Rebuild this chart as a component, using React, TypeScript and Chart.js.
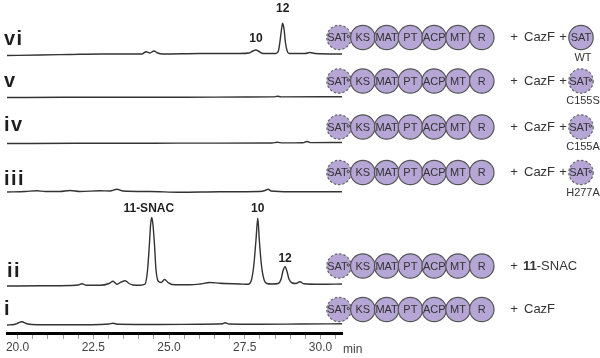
import React, { useEffect, useRef } from "react";
import { Chart, registerables } from "chart.js";

Chart.register(...registerables);

const FONT = '"Liberation Sans", Arial, Helvetica, sans-serif';

// ---------- data ----------
const X_MIN = 19.65;
const X_MAX = 30.71;
const TICK_VALUES = [20, 20.5, 21, 21.5, 22, 22.5, 23, 23.5, 24, 24.5, 25, 25.5, 26, 26.5, 27, 27.5, 28, 28.5, 29, 29.5, 30, 30.5];
const MAJOR_TICKS = [20, 22.5, 25, 27.5, 30];
const AXIS_UNIT = "min";

const TRACE_LABELS = ["vi", "v", "iv", "iii", "ii", "i"];
// baseline offsets of the stacked traces (signal units)
const TRACE_OFFSETS = [277.5, 235.5, 189.5, 141, 47, 8.5];

const traceVI: [number, number][] = [
  [19.65, 0], [20.74, 0.5], [21.73, 1], [22.72, 1.5], [23.71, 1.5], [24.1, 1.5], [24.24, 3.8],
  [24.37, 2.5], [24.5, 4.5], [24.62, 2.5], [24.8, 1.5], [26.02, 2], [27.34, 2], [27.64, 2.5],
  [27.77, 4.5], [27.87, 5.5], [27.97, 4], [28.1, 2], [28.53, 2], [28.61, 4.5], [28.66, 13.5],
  [28.71, 25.5], [28.75, 32.2], [28.8, 25.5], [28.84, 13.5], [28.9, 4.5], [28.96, 2], [29.49, 2],
  [29.65, 3], [29.82, 2], [30.71, 1.5],
];
const traceV: [number, number][] = [
  [19.65, 0], [21.5, 0.2], [23.5, 0.3], [25.5, 0.3], [27.5, 0.5], [28.45, 0.6], [28.57, 1.3],
  [28.7, 0.6], [30.71, 0.8],
];
const traceIV: [number, number][] = [
  [19.65, 0], [22, 0.2], [24.5, 0.3], [26.5, 0.4], [28.4, 0.5], [28.57, 1.2], [28.75, 0.6],
  [29.42, 0.8], [29.55, 2.0], [29.7, 0.9], [30.71, 1],
];
const traceIII: [number, number][] = [
  [19.65, 0], [20.25, 0.5], [20.64, 1.3], [20.91, 0.5], [21.4, 0.5], [21.73, 1.5], [22.06, 0.5],
  [22.72, 1.2], [23.05, 1], [23.28, 2.7], [23.48, 1], [24.37, 0.5], [25.36, -0.3], [26.68, 0.2],
  [28.0, 0.5], [28.17, 1.5], [28.27, 2.7], [28.37, 1], [28.99, 0.2], [30.71, 0.3],
];
const traceII: [number, number][] = [
  [19.65, 0], [20.74, 0.2], [21.73, 0.5], [22.0, 1], [22.13, 2.3], [22.26, 0.7], [22.72, 0.7],
  [23.02, 2.5], [23.15, 4.7], [23.28, 1.7], [23.42, 4], [23.55, 5.2], [23.68, 2.5], [23.81, 1],
  [24.04, 0.7], [24.21, 2], [24.29, 16], [24.35, 41], [24.39, 61], [24.43, 68.5], [24.47, 61],
  [24.52, 41], [24.57, 16], [24.64, 5], [24.74, 3.5], [24.85, 6.5], [24.97, 3.5], [25.1, 1.5],
  [25.69, 1.2], [26.02, 2], [26.35, 3.5], [26.68, 2.7], [27.34, 2], [27.61, 1.7], [27.72, 6],
  [27.8, 21], [27.87, 46], [27.93, 67.7], [27.98, 46], [28.05, 21], [28.14, 6], [28.23, 2.5],
  [28.4, 2], [28.6, 2.5], [28.7, 7], [28.76, 15], [28.83, 19.3], [28.89, 15], [28.96, 7],
  [29.06, 3], [29.19, 2.5], [29.32, 4.3], [29.45, 2.2], [29.99, 1.7], [30.71, 2],
];
const traceI: [number, number][] = [
  [19.65, -0.5], [19.88, 0], [20.02, 1.5], [20.14, 2.8], [20.28, 1], [20.48, 0], [21.4, -0.3],
  [22.72, 0], [23.02, 0.5], [23.15, 1.3], [23.32, 0.2], [24.7, 0], [26.02, 0.3], [26.75, 0.7],
  [26.85, 1.7], [26.98, 0.5], [28.0, 0.3], [29.32, 0.5], [30.71, 0.7],
];
const TRACES = [traceVI, traceV, traceIV, traceIII, traceII, traceI];

const PEAK_LABELS = [
  { trace: 0, t: 28.75, text: "12" },
  { trace: 0, t: 27.87, text: "10" },
  { trace: 4, t: 24.43, text: "11-SNAC" },
  { trace: 4, t: 27.93, text: "10" },
  { trace: 4, t: 28.83, text: "12" },
];

const DOMAINS = ["SAT", "KS", "MAT", "PT", "ACP", "MT", "R"];
const ROW_ADDITIVE = ["CazF", "CazF", "CazF", "CazF", "11-SNAC", "CazF"];
const ROW_SAT_VARIANT: (string | null)[] = ["WT", "C155S", "C155A", "H277A", null, null];

// ---------- layout (pixels) ----------
const PEAK_GAPS = [11, 8, 5.5, 6, 5];
const PEAK_DX = [0, 0, -3, 0, 0];
const ROMAN_X = [4, 4, 4, 4, 7, 4];
const ROMAN_BASE_Y = [45, 87, 131, 185, 277, 315];
const ROW_Y = [37.5, 81, 127, 172.5, 266, 309.5];
const CIRCLE_X0 = 339;
const CIRCLE_STEP = 23.8;
const CIRCLE_R = 12.2;
const FILL = "#b5a6d5";
const STROKE = "#555555";
const TEXT = "#333333";

function drawDomain(ctx: CanvasRenderingContext2D, cx: number, cy: number, label: string, dashed: boolean) {
  ctx.save();
  ctx.beginPath();
  ctx.arc(cx, cy, CIRCLE_R, 0, Math.PI * 2);
  ctx.fillStyle = FILL;
  ctx.fill();
  ctx.lineWidth = 1.2;
  ctx.strokeStyle = dashed ? "#666666" : STROKE;
  ctx.setLineDash(dashed ? [2.4, 2] : []);
  ctx.stroke();
  ctx.setLineDash([]);
  ctx.fillStyle = TEXT;
  ctx.font = `11px ${FONT}`;
  ctx.textAlign = "center";
  ctx.textBaseline = "middle";
  if (dashed) {
    ctx.fillText(label, cx - 1.5, cy + 0.5);
    ctx.beginPath();
    ctx.arc(cx + 9.3, cy - 1, 1.2, 0, Math.PI * 2);
    ctx.lineWidth = 0.9;
    ctx.strokeStyle = TEXT;
    ctx.stroke();
  } else {
    ctx.fillText(label, cx, cy + 0.5);
  }
  ctx.restore();
}

const decorPlugin = {
  id: "decor",
  afterDraw(chart: any) {
    const ctx: CanvasRenderingContext2D = chart.ctx;
    const xs = chart.scales.x;
    const ys = chart.scales.y;
    ctx.save();

    // roman numerals
    ctx.fillStyle = "#1e1e1e";
    ctx.font = `bold 20px ${FONT}`;
    (ctx as any).letterSpacing = "1.5px";
    ctx.textAlign = "left";
    ctx.textBaseline = "alphabetic";
    TRACE_LABELS.forEach((lab, i) => ctx.fillText(lab, ROMAN_X[i], ROMAN_BASE_Y[i]));
    (ctx as any).letterSpacing = "0px";

    // peak labels
    ctx.font = `bold 12px ${FONT}`;
    ctx.textAlign = "center";
    ctx.fillStyle = "#1e1e1e";
    PEAK_LABELS.forEach((p, i) => {
      const pt = TRACES[p.trace].find((d) => d[0] === p.t);
      const v = TRACE_OFFSETS[p.trace] + (pt ? pt[1] : 0);
      ctx.fillText(p.text, xs.getPixelForValue(p.t) + PEAK_DX[i], ys.getPixelForValue(v) - PEAK_GAPS[i]);
    });

    // axis unit
    ctx.font = `12px ${FONT}`;
    ctx.fillStyle = "#444";
    ctx.textAlign = "left";
    ctx.fillText(AXIS_UNIT, xs.right + 1, 352.5);

    // domain diagrams
    ROW_Y.forEach((cy, r) => {
      DOMAINS.forEach((d, k) => drawDomain(ctx, CIRCLE_X0 + k * CIRCLE_STEP, cy, d, k === 0));
      ctx.fillStyle = TEXT;
      ctx.textBaseline = "middle";
      ctx.font = `13px ${FONT}`;
      ctx.textAlign = "center";
      ctx.fillText("+", 514, cy);
      ctx.textAlign = "left";
      const add = ROW_ADDITIVE[r];
      if (add.startsWith("11-")) {
        ctx.font = `bold 13px ${FONT}`;
        ctx.fillText("11", 523, cy);
        const w = ctx.measureText("11").width;
        ctx.font = `13px ${FONT}`;
        ctx.fillText(add.slice(2), 523 + w, cy);
      } else {
        ctx.fillText(add, 524, cy);
      }
      const variant = ROW_SAT_VARIANT[r];
      if (variant) {
        ctx.textAlign = "center";
        ctx.fillText("+", 563, cy);
        drawDomain(ctx, 581, cy, "SAT", variant !== "WT");
        ctx.fillStyle = TEXT;
        ctx.font = `11px ${FONT}`;
        ctx.textAlign = "center";
        ctx.textBaseline = "middle";
        ctx.fillText(variant, 583, cy + 20);
      }
    });
    ctx.restore();
  },
};

export default function App() {
  const ref = useRef<HTMLCanvasElement | null>(null);
  useEffect(() => {
    if (!ref.current) return;
    const chart = new Chart(ref.current, {
      type: "line",
      data: {
        datasets: TRACES.map((tr, i) => ({
          label: TRACE_LABELS[i],
          data: tr.map(([t, v]) => ({ x: t, y: TRACE_OFFSETS[i] + v })),
          borderColor: "#333333",
          borderWidth: 1.4,
          pointRadius: 0,
          fill: false,
          cubicInterpolationMode: "monotone" as const,
        })),
      },
      options: {
        animation: false,
        responsive: false,
        maintainAspectRatio: false,
        layout: { padding: { left: 7, right: 258, top: 0, bottom: 1 } },
        plugins: { legend: { display: false }, tooltip: { enabled: false } },
        scales: {
          x: {
            type: "linear",
            min: X_MIN,
            max: X_MAX,
            afterBuildTicks: (s: any) => {
              s.ticks = TICK_VALUES.map((v) => ({ value: v }));
            },
            ticks: {
              autoSkip: false,
              maxRotation: 0,
              minRotation: 0,
              padding: 3,
              color: "#444",
              font: { family: FONT, size: 12, lineHeight: 1 },
              callback: (v: any) => (MAJOR_TICKS.some((m) => Math.abs(m - Number(v)) < 1e-6) ? Number(v).toFixed(1) : ""),
            },
            grid: { drawOnChartArea: false, drawTicks: true, tickLength: 6, tickColor: "#a0a0a0", tickWidth: 1 },
            border: { display: true, color: "#000", width: 3 },
          },
          y: { display: false, min: 0, max: 333 },
        },
      },
      plugins: [decorPlugin],
    });
    return () => chart.destroy();
  }, []);
  return (
    <div style={{ position: "absolute", left: 0, top: 0, width: 600, height: 358, background: "#fff" }}>
      <canvas ref={ref} width={600} height={358} style={{ width: 600, height: 358, display: "block" }} />
    </div>
  );
}
